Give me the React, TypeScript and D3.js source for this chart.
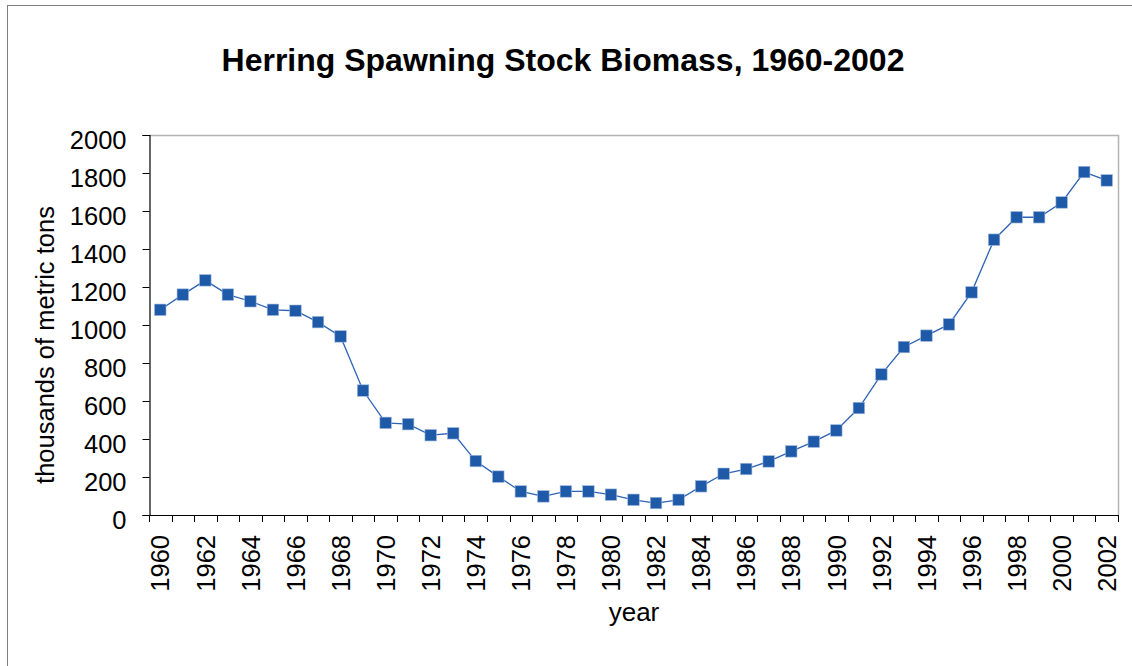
import React, { useRef, useEffect } from 'react';
import * as d3 from 'd3';

// Data
const years: number[] = [
  1960, 1961, 1962, 1963, 1964, 1965, 1966, 1967, 1968, 1969, 1970, 1971, 1972, 1973, 1974,
  1975, 1976, 1977, 1978, 1979, 1980, 1981, 1982, 1983, 1984, 1985, 1986, 1987, 1988, 1989,
  1990, 1991, 1992, 1993, 1994, 1995, 1996, 1997, 1998, 1999, 2000, 2001, 2002,
];
const biomass: number[] = [
  1080, 1160, 1235, 1160, 1125, 1080, 1075, 1015, 940, 655, 485, 478, 420, 430, 284,
  202, 124, 98, 124, 124, 107, 80, 63, 80, 151, 217, 242, 282, 335, 386,
  445, 563, 740, 884, 944, 1003, 1172, 1449, 1567, 1567, 1645, 1805, 1761,
];
const yTicks: number[] = [0, 200, 400, 600, 800, 1000, 1200, 1400, 1600, 1800, 2000];

const chartTitle = 'Herring Spawning Stock Biomass, 1960-2002';
const yTitle = 'thousands of metric tons';
const xTitle = 'year';

// Dimensions
const width = 1132;
const height = 666;
const plot = { left: 149, right: 1118, top: 135, bottom: 515 };
const font = 'Liberation Sans, Arial, sans-serif';

export default function App() {
  const svgRef = useRef(null);

  useEffect(() => {
    const svg = d3.select(svgRef.current);
    svg.selectAll('*').remove();

    // chart area border
    svg
      .append('rect')
      .attr('x', 7.5)
      .attr('y', 5.5)
      .attr('width', width + 20)
      .attr('height', height + 20)
      .attr('fill', '#fff')
      .attr('stroke', '#7f7f7f')
      .attr('stroke-width', 1);

    // Scales
    const xScale = d3
      .scaleBand<number>()
      .domain(years)
      .range([plot.left, plot.right])
      .padding(0);
    const yScale = d3
      .scaleLinear()
      .domain([0, 2000])
      .range([plot.bottom, plot.top]);

    const cx = (y: number) => (xScale(y) as number) + xScale.bandwidth() / 2;

    // plot area border (top + right)
    svg
      .append('path')
      .attr('d', `M${plot.left},${plot.top + 0.5}H${plot.right + 0.5}V${plot.bottom}`)
      .attr('fill', 'none')
      .attr('stroke', '#b4b4b4')
      .attr('stroke-width', 1.5);

    // Y axis
    const yAxis = d3
      .axisLeft(yScale)
      .tickValues(yTicks)
      .tickSize(7)
      .tickPadding(16)
      .tickFormat((d) => `${d}`);
    const yAxisGroup = svg
      .append('g')
      .attr('transform', `translate(${plot.left + 0.5},0)`)
      .call(yAxis);
    yAxisGroup.select('.domain').attr('stroke', '#000').attr('stroke-width', 1.2);
    yAxisGroup.selectAll('.tick line').attr('stroke', '#000');
    yAxisGroup
      .selectAll('.tick text')
      .attr('dy', 13)
      .style('font-family', font)
      .style('font-size', '25.5px')
      .attr('fill', '#000');

    // X axis (category boundaries get the tick marks)
    const boundaries = years.map((y) => xScale(y) as number).concat([plot.right]);
    const xAxisGroup = svg.append('g');
    xAxisGroup
      .append('line')
      .attr('x1', plot.left)
      .attr('x2', plot.right + 1)
      .attr('y1', plot.bottom + 0.5)
      .attr('y2', plot.bottom + 0.5)
      .attr('stroke', '#000')
      .attr('stroke-width', 1.2);
    xAxisGroup
      .selectAll('line.xtick')
      .data(boundaries)
      .join('line')
      .classed('xtick', true)
      .attr('x1', (d) => Math.round(d) + 0.5)
      .attr('x2', (d) => Math.round(d) + 0.5)
      .attr('y1', plot.bottom)
      .attr('y2', plot.bottom + 7)
      .attr('stroke', '#000');
    xAxisGroup
      .selectAll('text.xlabel')
      .data(years.filter((y, i) => i % 2 === 0))
      .join('text')
      .classed('xlabel', true)
      .attr('transform', (d) => `translate(${cx(d)},${plot.bottom + 20}) rotate(-90)`)
      .attr('dy', '0.36em')
      .attr('text-anchor', 'end')
      .style('font-family', font)
      .style('font-size', '25.5px')
      .attr('fill', '#000')
      .text((d) => `${d}`);

    // Line
    const points = years.map((y, i) => ({ year: y, value: biomass[i] }));
    const lineGenerator = d3
      .line<{ year: number; value: number }>()
      .x((d) => cx(d.year))
      .y((d) => yScale(d.value));
    svg
      .append('path')
      .datum(points)
      .attr('d', lineGenerator)
      .attr('fill', 'none')
      .attr('stroke', '#2e63b5')
      .attr('stroke-width', 1.3);

    // Square markers
    const size = 11.5;
    svg
      .append('g')
      .selectAll('rect')
      .data(points)
      .join('rect')
      .attr('x', (d) => cx(d.year) - size / 2)
      .attr('y', (d) => yScale(d.value) - size / 2)
      .attr('width', size)
      .attr('height', size)
      .attr('fill', '#1f5aa8')
      .attr('stroke', '#9fb8de')
      .attr('stroke-width', 0.6);

    // Titles
    svg
      .append('text')
      .attr('x', 563)
      .attr('y', 71)
      .attr('text-anchor', 'middle')
      .style('font-family', font)
      .style('font-size', '32px')
      .style('font-weight', 'bold')
      .attr('fill', '#000')
      .text(chartTitle);

    svg
      .append('text')
      .attr('transform', `translate(54,345) rotate(-90)`)
      .attr('text-anchor', 'middle')
      .style('font-family', font)
      .style('font-size', '25.5px')
      .attr('fill', '#000')
      .text(yTitle);

    svg
      .append('text')
      .attr('x', 634)
      .attr('y', 621)
      .attr('text-anchor', 'middle')
      .style('font-family', font)
      .style('font-size', '26px')
      .attr('fill', '#000')
      .text(xTitle);
  }, []);

  return (
    <svg
      ref={svgRef}
      width={width}
      height={height}
      style={{ position: 'absolute', left: 0, top: 0, background: '#fff' }}
    />
  );
}
